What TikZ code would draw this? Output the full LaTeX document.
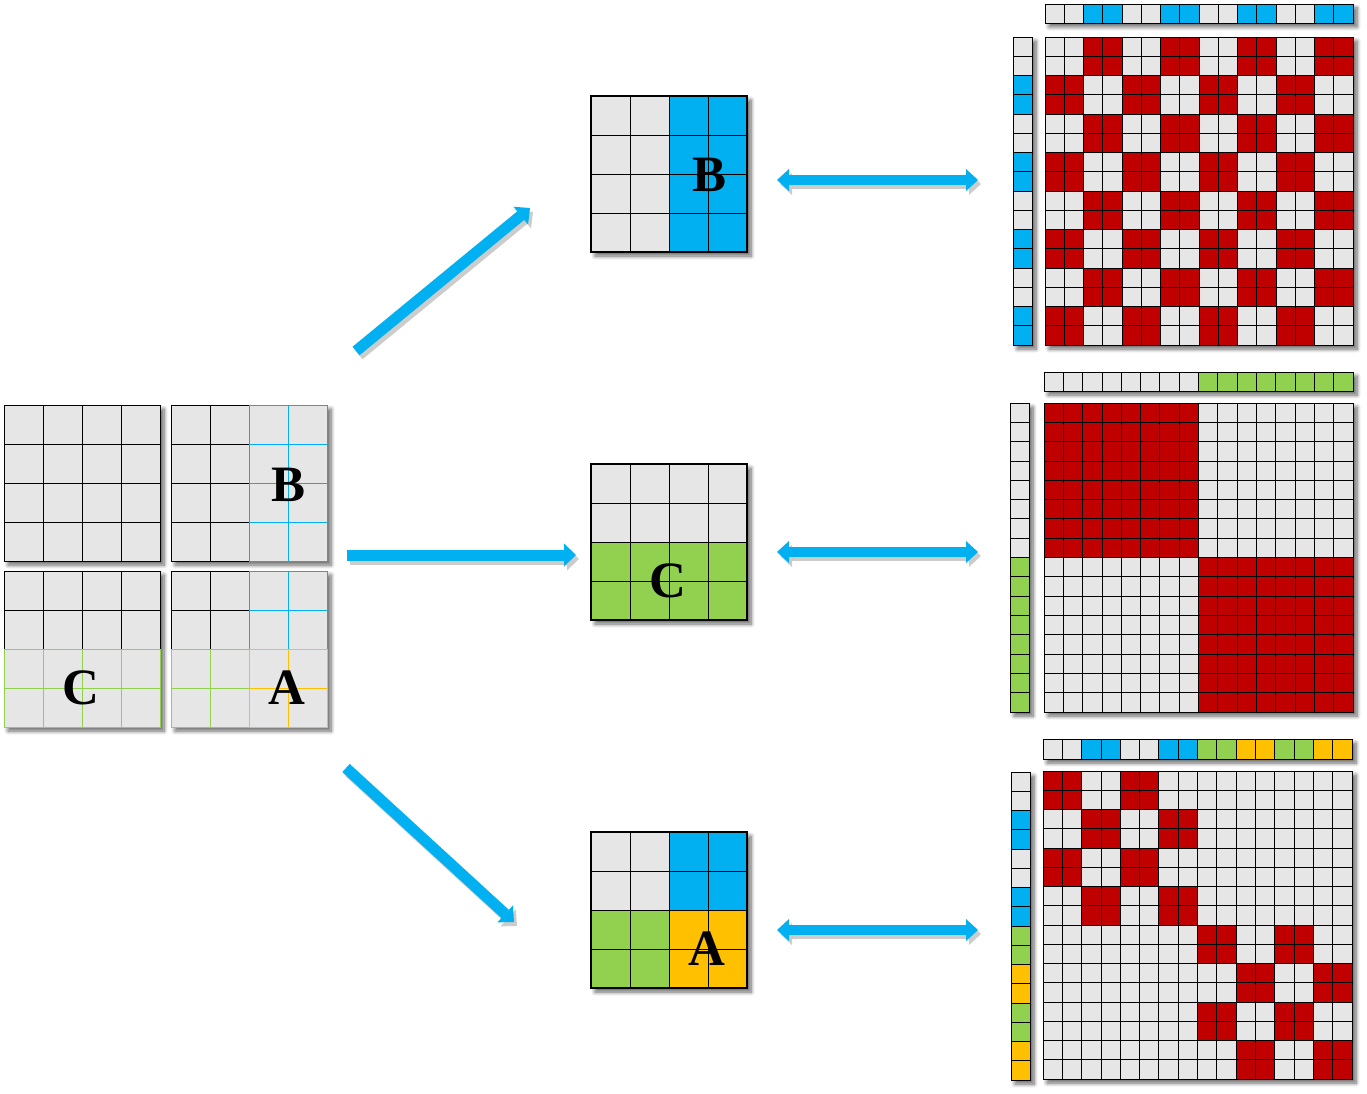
\documentclass[tikz,border=0pt]{standalone}
\usepackage{fontspec}
\setmainfont{Liberation Serif}
\usetikzlibrary{arrows.meta,shadows,shadows.blur}
\definecolor{mgray}{HTML}{E6E6E6}
\definecolor{mcyan}{HTML}{00B0F0}
\definecolor{mgreen}{HTML}{92D050}
\definecolor{morange}{HTML}{FFC000}
\definecolor{mred}{HTML}{C00000}
\tikzset{
  panel/.style={draw=none, fill=white, inner sep=0pt, outer sep=0pt, anchor=north west,
    blur shadow={shadow xshift=4pt, shadow yshift=-4pt, shadow blur radius=4pt, shadow blur steps=8, shadow opacity=60}},
  cell/.style={line width=0.8pt},
  letter/.style={font=\bfseries\fontsize{51}{51}\selectfont, inner sep=0pt},
  fatarrow/.style={draw=mcyan, line width=11pt, -{Triangle[length=12pt,width=23pt,line width=0pt]}},
  dblarrow/.style={draw=mcyan, line width=10pt, {Triangle[length=12pt,width=22pt,line width=0pt]}-{Triangle[length=12pt,width=22pt,line width=0pt]}},
  arrshadow/.style={draw=black, fill=black, opacity=0.2, transform canvas={xshift=3pt,yshift=-4pt}}
}
\begin{document}
\begin{tikzpicture}[x=1pt,y=-1pt]
\useasboundingbox (0,0) rectangle (1367,1094);

% ---------- left grids ----------
\node[panel, minimum width=156pt, minimum height=156pt] (g1) at (4,405) {};
\node[panel, minimum width=156pt, minimum height=156pt] (g2) at (171,405) {};
\node[panel, minimum width=156pt, minimum height=156pt] (g3) at (4,571) {};
\node[panel, minimum width=156pt, minimum height=156pt] (g4) at (171,571) {};
% g1
\foreach \i in {0,...,3}{\foreach \j in {0,...,3}{
  \draw[cell, fill=mgray] ({4+\j*39},{405+\i*39}) rectangle ++(39,39);}}
% g2
\foreach \i in {0,...,3}{\foreach \j in {0,1}{
  \draw[cell, fill=mgray] ({171+\j*39},{405+\i*39}) rectangle ++(39,39);}}
\foreach \i in {0,...,3}{\foreach \j in {2,3}{
  \draw[cell, draw=mcyan, fill=mgray] ({171+\j*39},{405+\i*39}) rectangle ++(39,39);}}
% g3
\foreach \i in {0,1}{\foreach \j in {0,...,3}{
  \draw[cell, fill=mgray] ({4+\j*39},{571+\i*39}) rectangle ++(39,39);}}
\foreach \i in {2,3}{\foreach \j in {0,...,3}{
  \draw[cell, draw=mgreen, fill=mgray] ({4+\j*39},{571+\i*39}) rectangle ++(39,39);}}
% g4
\foreach \i in {0,1}{\foreach \j in {0,1}{
  \draw[cell, fill=mgray] ({171+\j*39},{571+\i*39}) rectangle ++(39,39);}}
\foreach \i in {0,1}{\foreach \j in {2,3}{
  \draw[cell, draw=mcyan, fill=mgray] ({171+\j*39},{571+\i*39}) rectangle ++(39,39);}}
\foreach \i in {2,3}{\foreach \j in {0,1}{
  \draw[cell, draw=mgreen, fill=mgray] ({171+\j*39},{571+\i*39}) rectangle ++(39,39);}}
\foreach \i in {2,3}{\foreach \j in {2,3}{
  \draw[cell, draw=morange, fill=mgray] ({171+\j*39},{571+\i*39}) rectangle ++(39,39);}}
\node[letter] (lB) at (289,485) {B};
\node[letter] (lC) at (81,688) {C};
\node[letter] (lA) at (287,688) {A};

% ---------- middle grids ----------
\node[panel, minimum width=156pt, minimum height=156pt] (mB) at (591,96) {};
\node[panel, minimum width=156pt, minimum height=156pt] (mC) at (591,464) {};
\node[panel, minimum width=156pt, minimum height=156pt] (mA) at (591,832) {};
\foreach \i in {0,...,3}{\foreach \j in {0,...,3}{
  \pgfmathtruncatemacro\q{floor(\j/2)}
  \ifnum\q=1 \def\cc{mcyan}\else\def\cc{mgray}\fi
  \draw[cell, fill=\cc] ({591+\j*39},{96+\i*39}) rectangle ++(39,39);}}
\foreach \i in {0,...,3}{\foreach \j in {0,...,3}{
  \pgfmathtruncatemacro\q{floor(\i/2)}
  \ifnum\q=1 \def\cc{mgreen}\else\def\cc{mgray}\fi
  \draw[cell, fill=\cc] ({591+\j*39},{464+\i*39}) rectangle ++(39,39);}}
\foreach \i in {0,...,3}{\foreach \j in {0,...,3}{
  \pgfmathtruncatemacro\q{2*floor(\i/2)+floor(\j/2)}
  \ifcase\q \def\cc{mgray}\or\def\cc{mcyan}\or\def\cc{mgreen}\else\def\cc{morange}\fi
  \draw[cell, fill=\cc] ({591+\j*39},{832+\i*39}) rectangle ++(39,39);}}
\draw[line width=1.1pt] (591,96) rectangle ++(156,156);
\draw[line width=1.1pt] (591,464) rectangle ++(156,156);
\draw[line width=1.1pt] (591,832) rectangle ++(156,156);
\node[letter] (tB) at (709,175) {B};
\node[letter] (tC) at (668,581) {C};
\node[letter] (tA) at (707,949) {A};

% ---------- right: B ----------
\node[panel, minimum width=308pt, minimum height=19pt] (vBt) at (1045,4) {};
\node[panel, minimum width=19pt, minimum height=308pt] (vBl) at (1013,37) {};
\node[panel, minimum width=308pt, minimum height=308pt] (xB) at (1045,37) {};
\foreach \k in {0,...,15}{
  \pgfmathtruncatemacro\r{mod(floor(\k/2),2)}
  \ifnum\r=1 \def\cc{mcyan}\else\def\cc{mgray}\fi
  \draw[cell, fill=\cc] ({1045+\k*19.25},4) rectangle ++(19.25,19);
  \draw[cell, fill=\cc] (1013,{37+\k*19.25}) rectangle ++(19,19.25);}
\foreach \i in {0,...,15}{\foreach \j in {0,...,15}{
  \pgfmathtruncatemacro\r{mod(floor(\i/2)+floor(\j/2),2)}
  \ifnum\r=1 \def\cc{mred}\else\def\cc{mgray}\fi
  \draw[cell, fill=\cc] ({1045+\j*19.25},{37+\i*19.25}) rectangle ++(19.25,19.25);}}

% ---------- right: C ----------
\node[panel, minimum width=309pt, minimum height=19pt] (vCt) at (1044,372) {};
\node[panel, minimum width=19pt, minimum height=309pt] (vCl) at (1010,403) {};
\node[panel, minimum width=309pt, minimum height=309pt] (xC) at (1044,403) {};
\foreach \k in {0,...,15}{
  \pgfmathtruncatemacro\r{floor(\k/8)}
  \ifnum\r=1 \def\cc{mgreen}\else\def\cc{mgray}\fi
  \draw[cell, fill=\cc] ({1044+\k*19.3125},372) rectangle ++(19.3125,19);
  \draw[cell, fill=\cc] (1010,{403+\k*19.3125}) rectangle ++(19,19.3125);}
\foreach \i in {0,...,15}{\foreach \j in {0,...,15}{
  \pgfmathtruncatemacro\r{abs(floor(\i/8)-floor(\j/8))}
  \ifnum\r=0 \def\cc{mred}\else\def\cc{mgray}\fi
  \draw[cell, fill=\cc] ({1044+\j*19.3125},{403+\i*19.3125}) rectangle ++(19.3125,19.3125);}}

% ---------- right: A ----------
\node[panel, minimum width=309pt, minimum height=20pt] (vAt) at (1043,739) {};
\node[panel, minimum width=19pt, minimum height=308pt] (vAl) at (1011,772) {};
\node[panel, minimum width=309pt, minimum height=308pt] (xA) at (1043,771) {};
\foreach \k in {0,...,15}{
  \pgfmathtruncatemacro\r{2*floor(\k/8)+mod(floor(\k/2),2)}
  \ifcase\r \def\cc{mgray}\or\def\cc{mcyan}\or\def\cc{mgreen}\else\def\cc{morange}\fi
  \draw[cell, fill=\cc] ({1043+\k*19.3125},739) rectangle ++(19.3125,20);
  \draw[cell, fill=\cc] (1011,{772+\k*19.25}) rectangle ++(19,19.25);}
\foreach \i in {0,...,15}{\foreach \j in {0,...,15}{
  \pgfmathtruncatemacro\r{abs(floor(\i/8)-floor(\j/8))+mod(floor(\i/2)+floor(\j/2),2)}
  \ifnum\r=0 \def\cc{mred}\else\def\cc{mgray}\fi
  \draw[cell, fill=\cc] ({1043+\j*19.3125},{771+\i*19.25}) rectangle ++(19.3125,19.25);}}

% ---------- arrows ----------
\coordinate (au1) at (356,351);
\coordinate (au2) at (530,208);
\coordinate (am1) at (347,555);
\coordinate (am2) at (576,555);
\coordinate (ad1) at (346,768);
\coordinate (ad2) at (514,922);
\coordinate (db1) at (777,180);
\coordinate (db2) at (978,180);
\coordinate (dc1) at (777,552);
\coordinate (dc2) at (978,552);
\coordinate (da1) at (777,930);
\coordinate (da2) at (978,930);
\foreach \p/\q in {au1/au2, am1/am2, ad1/ad2}{
  \draw[fatarrow, arrshadow] (\p) -- (\q);
  \draw[fatarrow] (\p) -- (\q);}
\foreach \p/\q in {db1/db2, dc1/dc2, da1/da2}{
  \draw[dblarrow, arrshadow] (\p) -- (\q);
  \draw[dblarrow] (\p) -- (\q);}
\end{tikzpicture}
\end{document}
